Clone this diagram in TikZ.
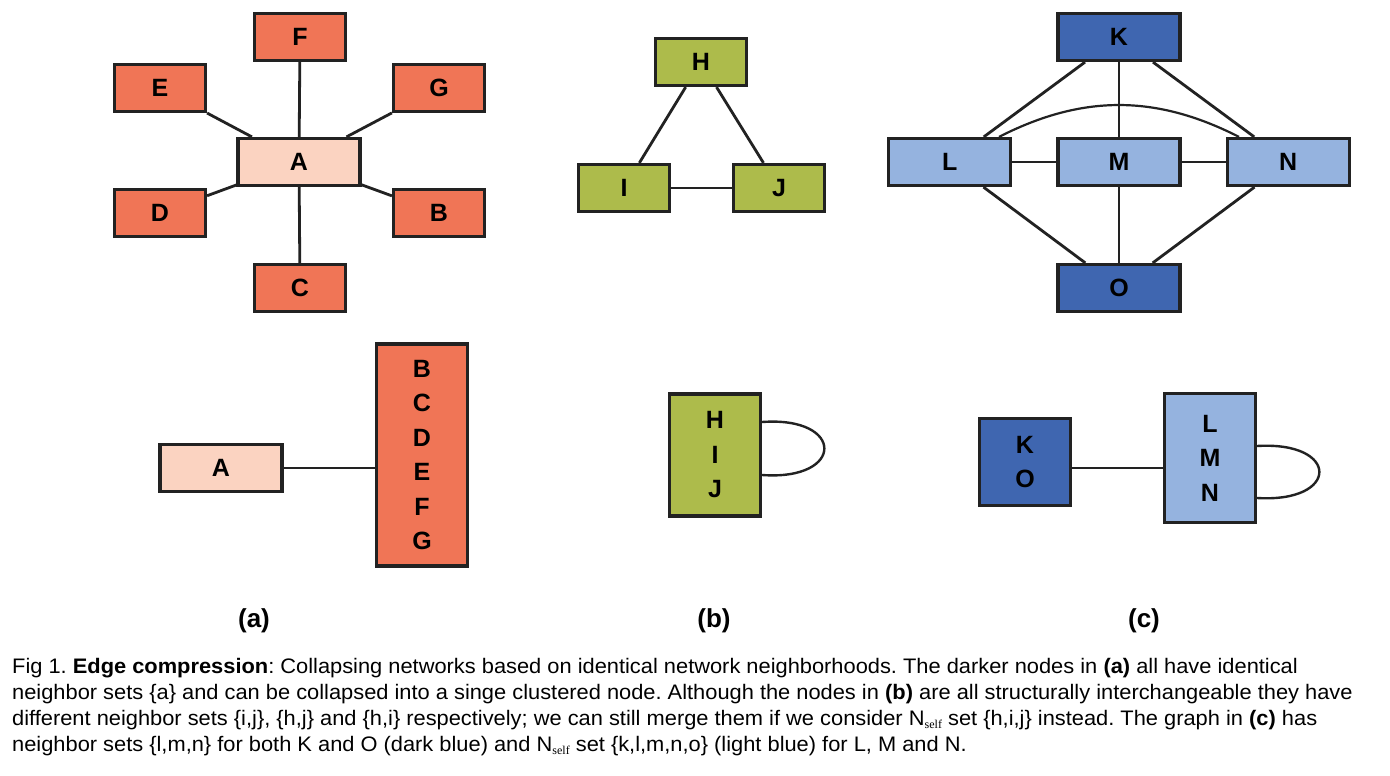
\documentclass[tikz,border=0pt]{standalone}
\usepackage{fontspec}
\setmainfont{Liberation Sans}
\newfontfamily\capfont[FakeStretch=1.04]{Liberation Sans}
\newfontfamily\selffont{Liberation Serif}
\usetikzlibrary{positioning}

\definecolor{redbox}{HTML}{F07556}
\definecolor{pinkbox}{HTML}{FBD3C1}
\definecolor{olivebox}{HTML}{ADBB4B}
\definecolor{darkbluebox}{HTML}{3F66B0}
\definecolor{lightbluebox}{HTML}{95B3DF}
\definecolor{linecol}{HTML}{222222}

\newcommand{\nself}{N\raisebox{-0.3ex}{\selffont\fontsize{12}{12}\selectfont self}}

\tikzset{
  box/.style={rectangle, draw=linecol, line width=3.2pt, minimum width=91pt,
    minimum height=47pt, inner sep=0pt,
    font=\fontsize{25}{34.5}\selectfont\bfseries, align=center},
  widebox/.style={box, minimum width=122pt},
  panel/.style={font=\fontsize{26}{26}\selectfont\bfseries}
}

\begin{document}
\begin{tikzpicture}[x=1pt, y=-1pt]
      \useasboundingbox[fill=white] (0,0) rectangle (1390,776);
      % (a) star around A
      \begin{scope}[every node/.style={box, fill=redbox}]
        \node (F) at (300,37) {F};
        \node (E) at (160,88) {E};
        \node (G) at (439,88) {G};
        \node (D) at (160,213) {D};
        \node (B) at (439,213) {B};
        \node (C) at (300,288) {C};
        \node (BG) [minimum height=222pt] at (422,455) {B\\C\\D\\E\\F\\G};
      \end{scope}
      \node (A) [widebox, fill=pinkbox] at (299,162) {A};
      \node (A2) [widebox, fill=pinkbox] at (221,468) {A};
      % (b) triangle
      \begin{scope}[every node/.style={box, fill=olivebox}]
        \node (H) at (701,62) {H};
        \node (I) at (624,188) {I};
        \node (J) at (779,188) {J};
        \node (HIJ) [minimum height=122pt] at (715,455) {H\\I\\J};
      \end{scope}
      % (c) K, L, M, N, O
      \begin{scope}[every node/.style={widebox, fill=lightbluebox}]
        \node (K) [fill=darkbluebox] at (1119,37) {K};
        \node (M) at (1119,162) {M};
        \node (L) [left=44pt of M] {L};
        \node (N) [right=44pt of M] {N};
        \node (O) [fill=darkbluebox] at (1119,288) {O};
        \node (KO) [box, minimum height=87pt, fill=darkbluebox] at (1025,462) {K\\O};
        \node (LMN) [box, minimum height=129pt] at (1210,458) {L\\M\\N};
      \end{scope}
      \begin{scope}
        [every edge/.style={draw=linecol, line width=2.8pt}]
        \path (A) edge (B);
        \path (A) edge (C);
        \path (A) edge (D);
        \path (A) edge (E);
        \path (A) edge (F);
        \path (A) edge (G);
        \path (H) edge (I);
        \path (H) edge (J);
        \path (I) edge (J);
        \path (K) edge (L);
        \path (K) edge (M);
        \path (K) edge (N);
        \path (L) edge (M);
        \path (M) edge (N);
        \path (L) edge (O);
        \path (M) edge (O);
        \path (N) edge (O);
        \path (L) edge[line width=2.2pt, bend left=27] (N);
      \end{scope}
      % collapsed edges and self loops
      \coordinate (ajoin) at (A2.east);
      \draw[draw=linecol, line width=2.8pt] (ajoin) -- (ajoin -| BG.west);
      \coordinate (kojoin) at ([yshift=-6pt]KO.east);
      \draw[draw=linecol, line width=2.8pt] (kojoin) -- (kojoin -| LMN.west);
      \coordinate (hijtop) at ([yshift=33pt]HIJ.east);
      \coordinate (hijbot) at ([yshift=-20pt]HIJ.east);
      \draw[draw=linecol, line width=2.4pt] (hijtop) .. controls +(83,-6) and +(83,6) .. (hijbot);
      \coordinate (lmntop) at ([yshift=12pt]LMN.east);
      \coordinate (lmnbot) at ([yshift=-40pt]LMN.east);
      \draw[draw=linecol, line width=2.4pt] (lmntop) .. controls +(83,-5) and +(83,5) .. (lmnbot);
      % panel labels
      \node (la) [panel] at (254,621) {(a)};
      \node (lb) [panel] at (714,621) {(b)};
      \node (lc) [panel] at (1144,621) {(c)};
      \node (caption) [anchor=north west, inner sep=0pt, align=left,
        font=\capfont\fontsize{21}{26}\selectfont\frenchspacing] at (12,658)
        {Fig 1. \textbf{Edge compression}: Collapsing networks based on identical network neighborhoods. The darker nodes in \textbf{(a)} all have identical\\
        neighbor sets \{a\} and can be collapsed into a singe clustered node. Although the nodes in \textbf{(b)} are all structurally interchangeable they have\\
        different neighbor sets \{i,j\}, \{h,j\} and \{h,i\} respectively; we can still merge them if we consider \nself{} set \{h,i,j\} instead. The graph in \textbf{(c)} has\\
        neighbor sets \{l,m,n\} for both K and O (dark blue) and \nself{} set \{k,l,m,n,o\} (light blue) for L, M and N.};
    \end{tikzpicture}
\end{document}
